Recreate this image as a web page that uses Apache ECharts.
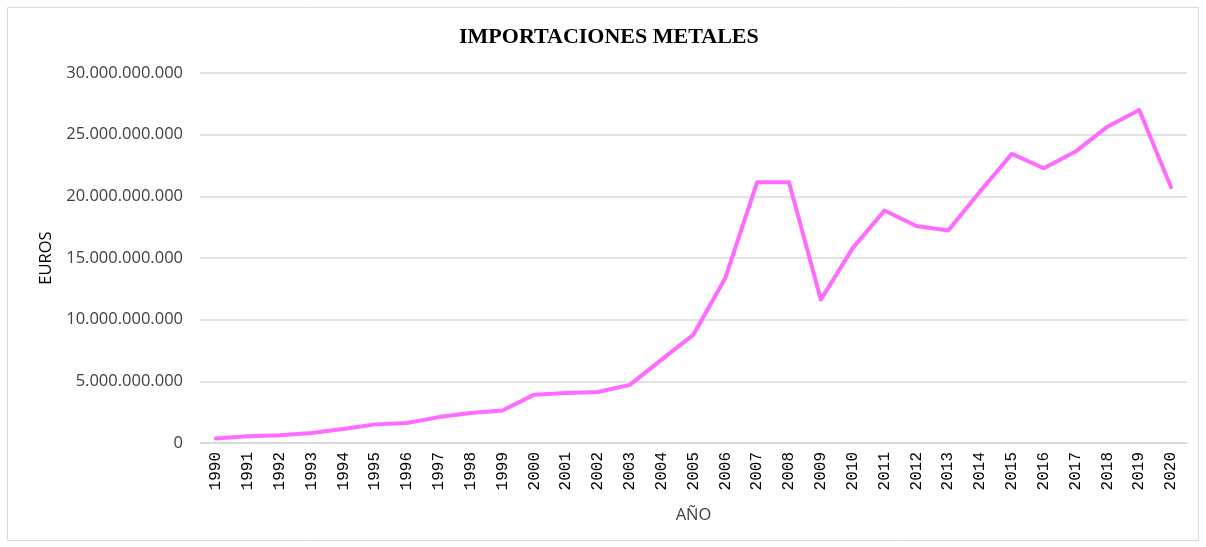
<!DOCTYPE html>
<html>
<head>
<meta charset="utf-8">
<script src="https://cdn.jsdelivr.net/npm/echarts@6/dist/echarts.min.js"></script>
<style>
  html, body { margin: 0; padding: 0; background: #fff; }
  #chartsDOM { width: 1206px; height: 547px; }
</style>
</head>
<body>
<div id="chartsDOM"></div>
<script>
const years = ['1990','1991','1992','1993','1994','1995','1996','1997','1998','1999',
  '2000','2001','2002','2003','2004','2005','2006','2007','2008','2009',
  '2010','2011','2012','2013','2014','2015','2016','2017','2018','2019','2020'];

// importaciones en euros
const euros = [
  370e6, 540e6, 620e6, 810e6, 1130e6, 1510e6, 1620e6, 2100e6, 2430e6, 2640e6,
  3920e6, 4050e6, 4140e6, 4710e6, 6760e6, 8790e6, 13380e6, 21150e6, 21150e6, 11620e6,
  15800e6, 18850e6, 17600e6, 17230e6, 20390e6, 23440e6, 22280e6, 23630e6, 25650e6, 27000e6, 20740e6
];

const yTicks = [0, 5e9, 10e9, 15e9, 20e9, 25e9, 30e9];

function fmt(v) {
  return String(Math.round(v)).replace(/\B(?=(\d{3})+(?!\d))/g, '.');
}

const chart = echarts.init(document.getElementById('chartsDOM'));

const option = {
  animation: false,
  title: {
    text: 'IMPORTACIONES METALES',
    left: 454,
    top: 21,
    textStyle: {
      fontFamily: 'Liberation Serif',
      fontWeight: 'bold',
      fontSize: 22,
      color: '#000'
    }
  },
  graphic: [
    {
      type: 'rect',
      shape: { x: 7.5, y: 7.5, width: 1191, height: 533 },
      style: { fill: 'none', stroke: '#d9d9d9', lineWidth: 1 },
      silent: true
    }
  ],
  grid: {
    left: 200,
    right: 19,
    top: 73,
    bottom: 104
  },
  xAxis: {
    type: 'category',
    data: years,
    boundaryGap: true,
    name: 'AÑO',
    nameLocation: 'middle',
    nameGap: 64,
    nameTextStyle: {
      fontFamily: 'Open Sans',
      fontSize: 16.5,
      color: '#404040'
    },
    axisLine: { show: true, lineStyle: { color: '#d9d9d9', width: 1.5 } },
    axisTick: { show: false },
    axisLabel: {
      rotate: 90,
      interval: 0,
      margin: 9,
      fontFamily: 'Liberation Mono',
      fontSize: 16,
      color: '#000'
    }
  },
  yAxis: {
    type: 'value',
    min: yTicks[0],
    max: yTicks[yTicks.length - 1],
    interval: 5e9,
    name: 'EUROS',
    nameLocation: 'middle',
    nameGap: 145,
    nameRotate: 90,
    nameTextStyle: {
      fontFamily: 'Open Sans',
      fontSize: 16.5,
      color: '#000'
    },
    axisLine: { show: false },
    axisTick: { show: false },
    axisLabel: {
      margin: 17,
      formatter: fmt,
      fontFamily: 'Open Sans',
      fontSize: 16.5,
      color: '#404040'
    },
    splitLine: { lineStyle: { color: '#d9d9d9', width: 1.5 } }
  },
  series: [
    {
      name: 'Importaciones',
      type: 'line',
      data: euros,
      symbol: 'none',
      lineStyle: { color: '#ff6bff', width: 4, join: 'round', cap: 'round' },
      itemStyle: { color: '#ff6bff' }
    }
  ]
};

chart.setOption(option);
</script>
</body>
</html>
